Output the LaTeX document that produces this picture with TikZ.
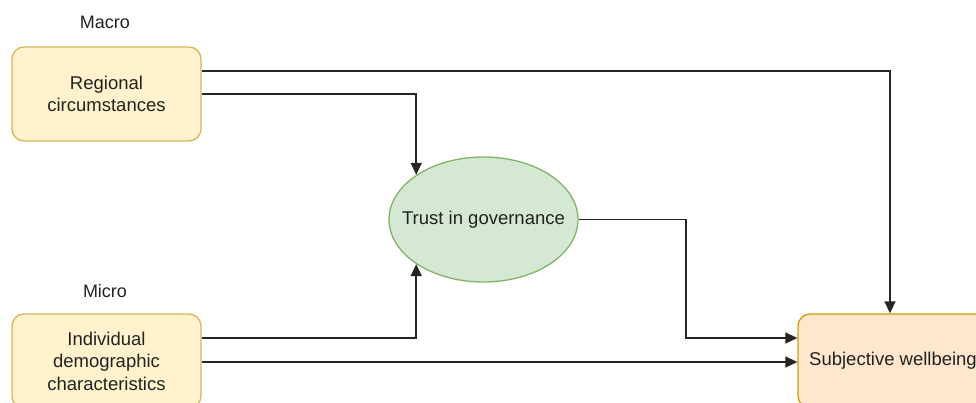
\documentclass[tikz,border=0pt]{standalone}
\usepackage{fontspec}
\setmainfont{Liberation Sans}
\usetikzlibrary{arrows.meta,shapes.geometric}
\definecolor{ylfill}{HTML}{FFF2CC}
\definecolor{yldraw}{HTML}{D6B656}
\definecolor{gnfill}{HTML}{D5E8D4}
\definecolor{gndraw}{HTML}{82B366}
\definecolor{orfill}{HTML}{FFE6CC}
\definecolor{ordraw}{HTML}{D79B00}
\definecolor{txt}{HTML}{222222}
\tikzset{
  base/.style={font=\fontsize{18.5}{22.5}\selectfont, text=txt, line width=1.3pt, align=center, inner sep=0pt},
  ybox/.style={base, rectangle, rounded corners=12pt, draw=yldraw, fill=ylfill, minimum width=189pt, minimum height=94pt},
  obox/.style={base, rectangle, rounded corners=12pt, draw=ordraw, fill=orfill, minimum width=190pt, minimum height=94pt},
  gell/.style={base, ellipse, draw=gndraw, fill=gnfill, minimum width=189pt, minimum height=125pt},
  lbl/.style={font=\fontsize{18}{20}\selectfont, text=txt, inner sep=0pt},
  arr/.style={line width=1.5pt, draw=black!85, -{Triangle[length=12pt,width=11pt]}},
}
\begin{document}
\begin{tikzpicture}[x=1pt,y=-1pt]
\useasboundingbox (0,0) rectangle (976,403);
\node[lbl] (macro) at (105,22) {Macro};
\node[lbl] (micro) at (105,291) {Micro};
\node[ybox] (r) at (106.5,94) {Regional\\circumstances};
\node[ybox] (d) at (106.5,361) {Individual\\demographic\\characteristics};
\node[gell] (t) at (483.5,219.5) {\makebox[0pt]{Trust in governance}};
\node[obox] (s) at (893,361) {Subjective wellbeing};
\coordinate (k) at (686,338);
\draw[arr] (r.east |- 0,71) -| ([xshift=-3pt]s.north);
\draw[arr] (r.east) -| (t.north west);
\draw[arr] (d.east |- 0,338) -| (t.south west);
\draw[arr] (t.east) -| (k) -- (s.west |- k);
\draw[arr] (d.east |- 0,362) -- (s.west |- 0,362);
\end{tikzpicture}
\end{document}
